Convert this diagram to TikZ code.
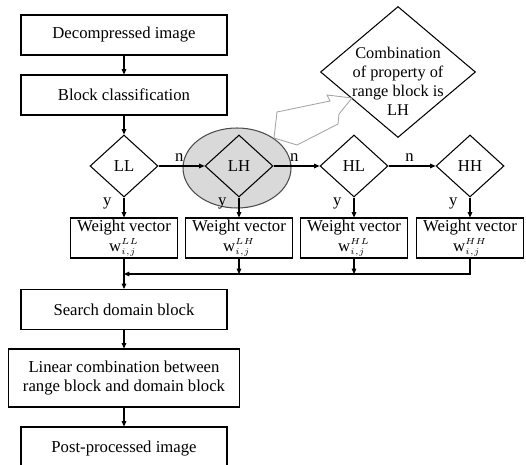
\documentclass[tikz,border=0pt]{standalone}
\usepackage{fontspec}
\setmainfont{Liberation Serif}
\usetikzlibrary{shapes.geometric,arrows.meta}
\newcommand{\wvec}[1]{w$^{\scriptscriptstyle #1}_{\scriptscriptstyle i,j}$}
\begin{document}
\begin{tikzpicture}[x=0.02cm,y=-0.02cm,line width=0.6pt,font=\fontsize{9.5}{11.2}\selectfont]
\tikzstyle{every node}+=[inner sep=0pt]
\tikzstyle{stepbox}=[draw,minimum width=4.12cm,minimum height=0.8cm]
\tikzstyle{wbox}=[draw,minimum width=2.14cm,minimum height=0.8cm,align=center]
\tikzstyle{test}=[draw,diamond,minimum width=1.36cm,minimum height=1.24cm]
\tikzstyle{flow}=[-{Triangle[length=3pt,width=2.6pt]}]
\tikzstyle{nlab}=[above,pos=0.45,yshift=2pt]
\tikzstyle{ylab}=[left=0.24cm,pos=0.3]
\clip (0,0) rectangle (526,465);
% shaded mark round the LH test
\node[ellipse,draw=black!70,fill=black!15,minimum width=2.16cm,minimum height=1.6cm] (hilite) at (237,168) {};
% main column
\node[stepbox] (decomp) at (124,35) {Decompressed image};
\node[stepbox] (classify) at (124,95) {Block classification};
\node[test] (ll) at (124,166) {LL};
\node[test] (lh) at (239,166) {LH};
\node[test] (hl) at (354,166) {HL};
\node[test] (hh) at (470,166) {HH};
% callout
\node[draw,diamond,minimum width=3.1cm,minimum height=2.62cm] (combo) at (398,72) {};
\node[align=center,font=\fontsize{9.3}{10.8}\selectfont] (comboTxt) at (398,81.5) {Combination\\of property of\\range block is\\LH};
\draw[black!35,line width=0.5pt] (274,138) -- (277,112) -- (330,101) -- (327,95) -- (352,98)
  -- (339,114) -- (338,124) -- (297,145) -- cycle;
% weight vectors
\node[wbox] (wll) at (124,238) {Weight vector\\\wvec{LL}};
\node[wbox] (wlh) at (239,238) {Weight vector\\\wvec{LH}};
\node[wbox] (whl) at (354,238) {Weight vector\\\wvec{HL}};
\node[wbox] (whh) at (470,238) {Weight vector\\\wvec{HH}};
\coordinate (busL) at (124,274);
\node[stepbox] (search) at (124,309.5) {Search domain block};
\node[stepbox,minimum width=4.62cm,minimum height=1.16cm,align=center] (lincomb) at (124,378)
  {Linear combination between\\range block and domain block};
\node[stepbox,minimum height=0.88cm] (post) at (124,449) {Post-processed image};
% connectors
\draw[flow] (decomp) -- (classify);
\draw[flow] (classify) -- (ll);
\draw[flow] (ll) -- node[nlab]{n} (lh);
\draw[flow] (lh) -- node[nlab]{n} (hl);
\draw[flow] (hl) -- node[nlab]{n} (hh);
\draw[flow] (ll) -- node[ylab]{y} (wll);
\draw[flow] (lh) -- node[ylab]{y} (wlh);
\draw[flow] (hl) -- node[ylab]{y} (whl);
\draw[flow] (hh) -- node[ylab]{y} (whh);
\draw[flow] (wll) -- (search);
\draw[flow] (wlh) -- (wlh |- busL);
\draw[flow] (whl) -- (whl |- busL);
\draw[flow] (whh) -- (whh |- busL) -- (busL);
\draw[flow] (search) -- (lincomb);
\draw[flow] (lincomb) -- (post);
\end{tikzpicture}
\end{document}
